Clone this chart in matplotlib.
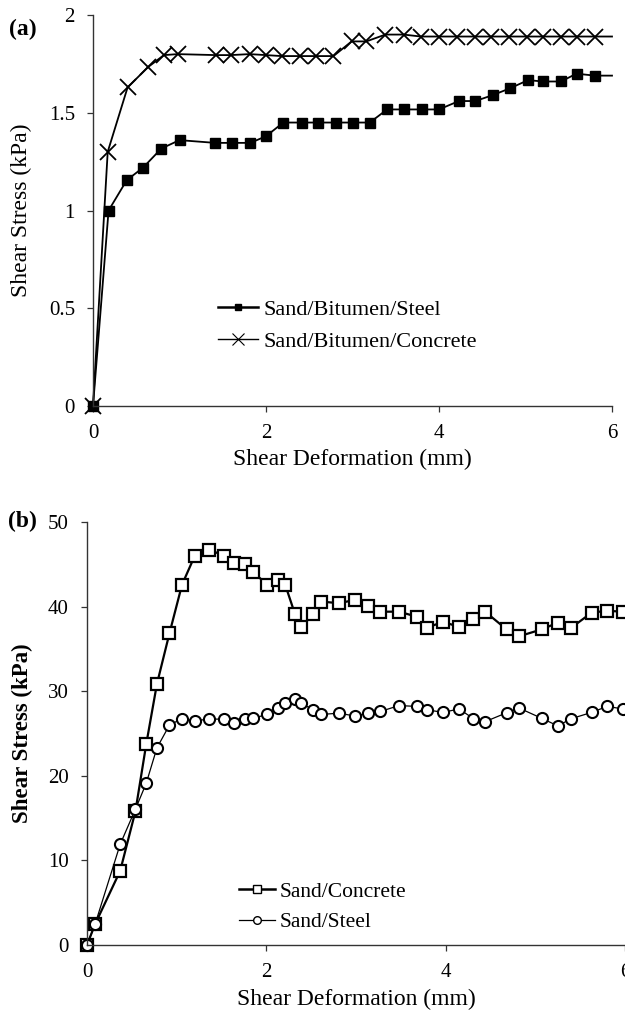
import numpy as np
import matplotlib
matplotlib.use('Agg')
import matplotlib.pyplot as plt
from matplotlib.ticker import FuncFormatter
from matplotlib.lines import Line2D

plt.rcParams['font.family'] = ['Liberation Serif', 'DejaVu Serif']

# panel (a) - bitumen coated interfaces (kPa)
a_x_steel = [0, 0.18, 0.39, 0.58, 0.79, 1.0, 1.41, 1.61, 1.82, 2.0, 2.2, 2.42, 2.6, 2.81, 3.0,
             3.2, 3.4, 3.6, 3.8, 4.0, 4.23, 4.42, 4.62, 4.82, 5.03, 5.2, 5.41, 5.59, 5.8, 6.0]
a_y_steel = [0, 1.0, 1.155, 1.22, 1.317, 1.36, 1.346, 1.346, 1.346, 1.38, 1.45, 1.45, 1.45, 1.45, 1.45,
             1.45, 1.517, 1.517, 1.517, 1.517, 1.56, 1.56, 1.59, 1.625, 1.667, 1.66, 1.66, 1.70, 1.69, 1.69]
a_x_conc = [0, 0.17, 0.4, 0.64, 0.82, 0.98, 1.42, 1.59, 1.81, 2.0, 2.18, 2.39, 2.58, 2.78, 2.99,
            3.16, 3.38, 3.59, 3.79, 4.0, 4.21, 4.42, 4.6, 4.81, 5.02, 5.2, 5.41, 5.59, 5.8, 6.0]
a_y_conc = [0, 1.30, 1.63, 1.735, 1.795, 1.80, 1.795, 1.795, 1.80, 1.795, 1.79, 1.79, 1.79, 1.79, 1.865,
            1.865, 1.90, 1.90, 1.89, 1.89, 1.89, 1.89, 1.89, 1.89, 1.89, 1.89, 1.89, 1.89, 1.89, 1.89]
a_labels = ['Sand/Bitumen/Steel', 'Sand/Bitumen/Concrete']

# panel (b) - uncoated interfaces (kPa)
b_x = [0, 0.09, 0.37, 0.54, 0.66, 0.78, 0.92, 1.06, 1.20, 1.36, 1.53, 1.64, 1.76, 1.85, 2.01,
       2.13, 2.21, 2.32, 2.39, 2.52, 2.61, 2.81, 2.99, 3.13, 3.27, 3.48, 3.68, 3.79, 3.97, 4.15,
       4.31, 4.44, 4.68, 4.82, 5.07, 5.25, 5.40, 5.63, 5.80, 5.98]
b_y_conc = [0, 2.45, 8.76, 15.8, 23.7, 30.86, 36.86, 42.6, 45.96, 46.75, 46.0, 45.18, 45.0, 44.1, 42.6,
            43.2, 42.6, 39.1, 37.6, 39.1, 40.6, 40.4, 40.8, 40.1, 39.4, 39.4, 38.8, 37.5, 38.2, 37.6,
            38.5, 39.4, 37.3, 36.5, 37.3, 38.1, 37.5, 39.3, 39.5, 39.4]
b_y_steel = [0, 2.45, 11.9, 16.05, 19.1, 23.3, 26.0, 26.75, 26.5, 26.7, 26.7, 26.2, 26.7, 26.8, 27.25,
             28.0, 28.6, 29.1, 28.6, 27.8, 27.25, 27.4, 27.06, 27.4, 27.6, 28.3, 28.2, 27.8, 27.5, 27.9,
             26.75, 26.4, 27.45, 28.0, 26.8, 25.9, 26.75, 27.5, 28.2, 27.9]
b_labels = ['Sand/Concrete', 'Sand/Steel']

a_yticks = [0, 0.5, 1, 1.5, 2]
b_yticks = [0, 10, 20, 30, 40, 50]
xticks = [0, 2, 4, 6]

fig = plt.figure(figsize=(6.25, 10.15), dpi=100)
ax1 = fig.add_axes([0.1488, 0.600, 0.8304, 0.3852])
ax2 = fig.add_axes([0.1392, 0.069, 0.8608, 0.4167])

fmt = FuncFormatter(lambda v, p: '%g' % v)

def style(ax):
    ax.spines['top'].set_visible(False)
    ax.spines['right'].set_visible(False)
    for s in ['left', 'bottom']:
        ax.spines[s].set_color('#333333')
        ax.spines[s].set_linewidth(1.0)
    ax.tick_params(direction='out', length=4, width=0.9, color='#333333',
                   labelsize=15, pad=9)
    ax.tick_params(axis='x', pad=9)
    ax.xaxis.set_major_formatter(fmt)
    ax.yaxis.set_major_formatter(fmt)

# (a)
ax1.plot(a_x_steel, a_y_steel, color='black', lw=1.3, marker='s', ms=6.5,
         mfc='black', mec='black', markevery=slice(0, -1), clip_on=False)
ax1.plot(a_x_conc, a_y_conc, color='black', lw=1.3, marker='x', ms=11, mew=1.3,
         markevery=slice(0, -1), clip_on=False)
ax1.set_xlim(0, 6)
ax1.set_ylim(0, 2)
ax1.set_xticks(xticks)
ax1.set_yticks(a_yticks)
style(ax1)
ax1.set_xlabel('Shear Deformation (mm)', fontsize=17)
ax1.set_ylabel('Shear Stress (kPa)', fontsize=17)
ax1.xaxis.set_label_coords(0.5, -0.11)
ax1.yaxis.set_label_coords(-0.118, 0.5)
h1 = [Line2D([], [], color='black', lw=1.8, marker='s', ms=5),
      Line2D([], [], color='black', lw=1.0, marker='x', ms=9, mew=0.8)]
ax1.legend(h1, a_labels, loc='upper left', bbox_to_anchor=(0.24, 0.272), frameon=False,
           fontsize=16, handlelength=1.8, handletextpad=0.25, labelspacing=0.5,
           borderpad=0, borderaxespad=0)
fig.text(0.014, 0.971, '(a)', fontsize=17, fontweight='bold', va='center', ha='left')

# (b)
ax2.plot(b_x, b_y_conc, color='black', lw=1.6, marker='s', ms=9, mfc='white',
         mec='black', mew=1.6, clip_on=False)
ax2.plot(b_x, b_y_steel, color='black', lw=0.9, marker='o', ms=8, mfc='white',
         mec='black', mew=1.5, clip_on=False)
ax2.set_xlim(0, 6)
ax2.set_ylim(0, 50)
ax2.set_xticks(xticks)
ax2.set_yticks(b_yticks)
style(ax2)
ax2.set_xlabel('Shear Deformation (mm)', fontsize=17)
ax2.set_ylabel('Shear Stress (kPa)', fontsize=16.5, fontweight='bold')
ax2.xaxis.set_label_coords(0.5, -0.105)
ax2.yaxis.set_label_coords(-0.1, 0.5)
h2 = [Line2D([], [], color='black', lw=1.8, marker='s', ms=6, mfc='white', mew=1.0),
      Line2D([], [], color='black', lw=0.9, marker='o', ms=5.5, mfc='white', mew=1.0)]
ax2.legend(h2, b_labels, loc='upper left', bbox_to_anchor=(0.282, 0.15), frameon=False,
           fontsize=15.5, handlelength=1.7, handletextpad=0.2, labelspacing=0.5,
           borderpad=0, borderaxespad=0)
fig.text(0.013, 0.486, '(b)', fontsize=17, fontweight='bold', va='center', ha='left')

fig.savefig('out.png', dpi=100)
